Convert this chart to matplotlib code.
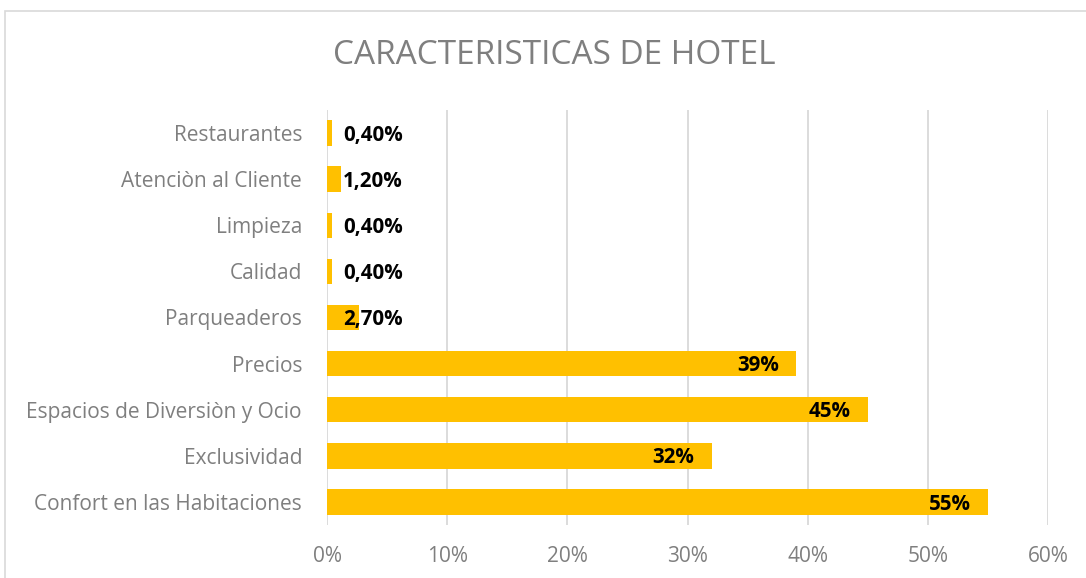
import matplotlib
matplotlib.use("Agg")
import matplotlib.pyplot as plt
from matplotlib.patches import Rectangle

categories = ["Confort en las Habitaciones", "Exclusividad", "Espacios de Diversiòn y Ocio",
              "Precios", "Parqueaderos", "Calidad", "Limpieza", "Atenciòn al Cliente", "Restaurantes"]
values = [55, 32, 45, 39, 2.7, 0.4, 0.4, 1.2, 0.4]
labels = ["55%", "32%", "45%", "39%", "2,70%", "0,40%", "0,40%", "1,20%", "0,40%"]
xticks = [0, 10, 20, 30, 40, 50, 60]
xticklabels = ["0%", "10%", "20%", "30%", "40%", "50%", "60%"]
title = "CARACTERISTICAS DE HOTEL"

plt.rcParams['font.family'] = ['Open Sans', 'DejaVu Sans']

W, H = 1086, 578
fig = plt.figure(figsize=(W / 100, H / 100), dpi=100)
fig.patches.append(Rectangle((5 / W, -0.1), 1.2, 1 - 11 / H + 0.1, transform=fig.transFigure,
                             fill=False, edgecolor="#D9D9D9", linewidth=1.2))

ax = fig.add_axes([327 / W, (H - 525) / H, (1048 - 327) / W, (525 - 110) / H])
ypos = list(range(len(categories)))
ax.barh(ypos, values, height=0.55, color="#FFC000", zorder=3)
ax.set_xlim(0, 60)
ax.set_ylim(-0.5, len(categories) - 0.5)
ax.set_xticks(xticks)
ax.set_xticklabels(xticklabels)
ax.set_yticks(ypos)
ax.set_yticklabels(categories)
ax.tick_params(axis="both", length=0, labelcolor="#7F7F7F", labelsize=15)
ax.tick_params(axis="x", pad=15)
ax.tick_params(axis="y", pad=18)
ax.grid(axis="x", color="#D9D9D9", linewidth=1.3, zorder=0)
for s in ax.spines.values():
    s.set_visible(False)

for y, v, lab in zip(ypos, values, labels):
    if v < 10:
        ax.annotate(lab, (1.33, y), xytext=(0, -1.5), textcoords="offset points",
                    ha="left", va="center", fontsize=14.8, fontweight="bold", color="black", zorder=4)
    else:
        ax.annotate(lab, (v, y), xytext=(-12.2, -1.5), textcoords="offset points",
                    ha="right", va="center", fontsize=14.8, fontweight="bold", color="black", zorder=4)

fig.text(554 / W, 1 - 55 / H, title, ha="center", va="center", fontsize=24, color="#7F7F7F")

fig.savefig("out.png", dpi=100)
